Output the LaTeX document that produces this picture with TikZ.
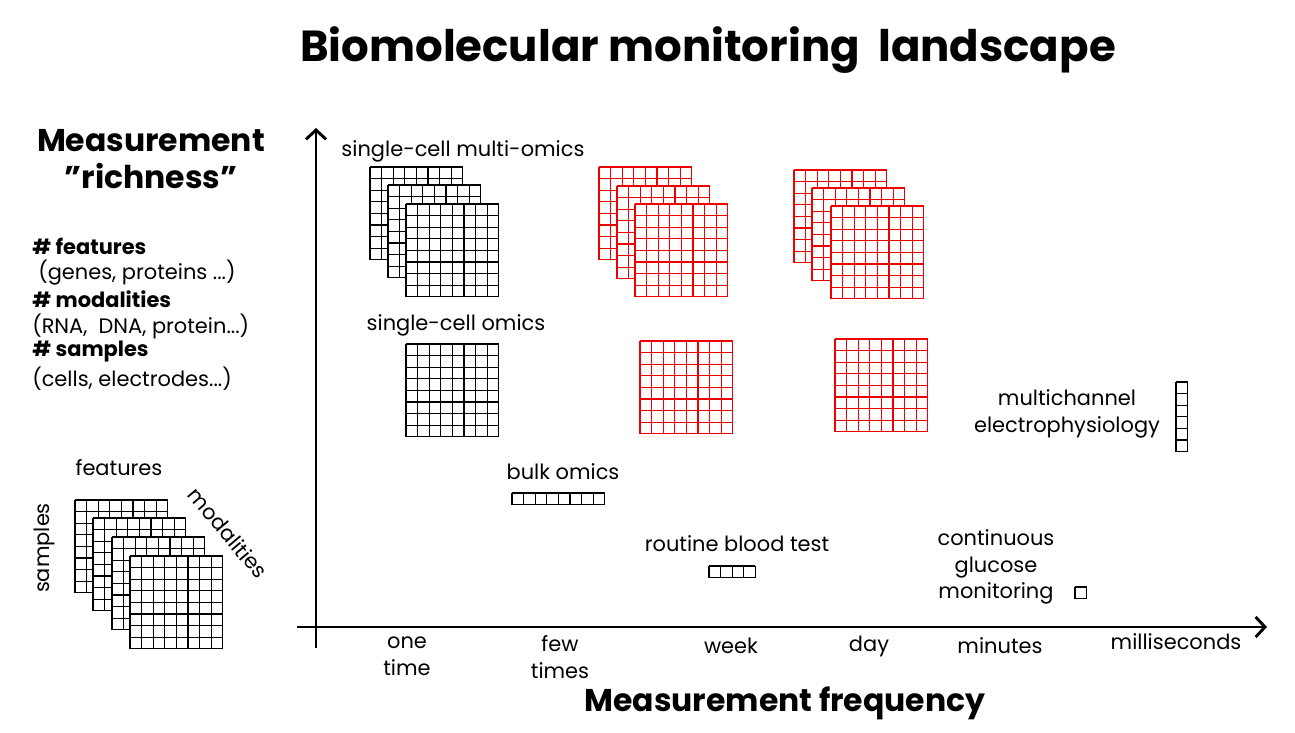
\documentclass[tikz,border=0pt]{standalone}
\usepackage{fontspec}
\setmainfont{Poppins}
\usepackage{tikz}
\usetikzlibrary{arrows.meta,positioning}
\usepackage{xcolor}
\definecolor{gridred}{RGB}{238,0,0}
\tikzstyle{gridline} = [line width=1pt]
\tikzstyle{axis} = [line width=2.2pt,-{Straight Barb[length=7pt,width=15pt,line width=2.2pt]}]
\tikzstyle{label} = [font=\fontsize{15.7}{20}\selectfont, align=center, inner sep=0pt]
\tikzstyle{bigtitle} = [font=\bfseries\fontsize{32.6}{38}\selectfont, inner sep=0pt]
\tikzstyle{axistitle} = [font=\bfseries\fontsize{23.6}{28}\selectfont, align=center, inner sep=0pt]
\tikzstyle{legend} = [font=\fontsize{15.7}{20}\selectfont, anchor=west, inner sep=0pt]
\tikzstyle{legendhead} = [legend, font=\bfseries\fontsize{15.7}{20}\selectfont]
% grid of square cells: [colour] left, top, columns, rows
\newcommand{\omicsgrid}[5][black]{%
  \fill[white] (#2,#3) rectangle ++({#4*11.6},{#5*11.6});
  \foreach \i in {0,...,#4}
    \draw[gridline,#1] ({#2+\i*11.6},#3) -- ++(0,{#5*11.6});
  \foreach \j in {0,...,#5}
    \draw[gridline,#1] (#2,{#3+\j*11.6}) -- ++({#4*11.6},0);
}

\begin{document}
\begin{tikzpicture}[x=0.75pt, y=-0.75pt]
\useasboundingbox (0,0) rectangle (1295,732);

% Title
\node[bigtitle] (title) at (708,50) {Biomolecular monitoring\ \ landscape};

% Richness legend
\node[axistitle] (richness) at (151,159) {Measurement\\\symbol{34}richness\symbol{34}};
\node[legendhead] (feat) at (32,246) {\# features};
\node[legend] (featx) at (38,273) {(genes, proteins ...)};
\node[legendhead] (moda) at (32,299) {\# modalities};
\node[legend] (modax) at (32,326) {(RNA,\ \ DNA, protein...)};
\node[legendhead] (samp) at (32,352) {\# samples};
\node[legend] (sampx) at (32,379) {(cells, electrodes...)};

% Legend cube
\omicsgrid{75}{500}{8}{8}
\omicsgrid{93}{518}{8}{8}
\omicsgrid{112}{537}{8}{8}
\omicsgrid{130}{556}{8}{8}
\node[label] (lfeat) at (119,468) {features};
\node[label, rotate=90] (lsamp) at (44,548) {samples};
\node[label, rotate=-50] (lmoda) at (228,533) {modalities};

% Axes
\coordinate (origin) at (316,627);
\coordinate (ybot) at (316,648);
\coordinate (ytop) at (316,128);
\coordinate (xleft) at (297,627);
\coordinate (xright) at (1267,627);
\draw[axis] (ybot) -- (ytop);
\draw[axis] (xleft) -- (xright);

% Frequency ticks
\node[label] (onetime) at (407,656) {one\\time};
\node[label] (fewtimes) at (560,657) {few\\times};
\node[label] (week) at (731,646) {week};
\node[label] (day) at (869,646) {day};
\node[label] (minutes) at (1000,646) {minutes};
\node[label] (msec) at (1176,642) {milliseconds};
\node[axistitle] (freq) at (785,703) {Measurement frequency};

% single-cell multi-omics
\node[label] (scmulti) at (463,151) {single-cell multi-omics};
\omicsgrid{370}{167}{8}{8}
\omicsgrid{388}{185}{8}{8}
\omicsgrid{406}{204}{8}{8}
\omicsgrid[gridred]{599}{167}{8}{8}
\omicsgrid[gridred]{617}{186}{8}{8}
\omicsgrid[gridred]{635}{204}{8}{8}
\omicsgrid[gridred]{794}{170}{8}{8}
\omicsgrid[gridred]{812}{188}{8}{8}
\omicsgrid[gridred]{831}{206}{8}{8}

% single-cell omics
\node[label] (scomics) at (456,325) {single-cell omics};
\omicsgrid{406}{344}{8}{8}
\omicsgrid[gridred]{640}{341}{8}{8}
\omicsgrid[gridred]{835}{339}{8}{8}

% bulk, blood, glucose, ephys
\node[label] (bulk) at (563,472) {bulk omics};
\omicsgrid{512}{493}{8}{1}
\node[label] (blood) at (737,544) {routine blood test};
\omicsgrid{709}{566}{4}{1}
\node[label] (cgm) at (996,567) {continuous\\glucose\\monitoring};
\omicsgrid{1075}{587}{1}{1}
\node[label] (ephys) at (1067,414) {multichannel\\electrophysiology};
\omicsgrid{1176}{382}{1}{6}
\end{tikzpicture}
\end{document}
